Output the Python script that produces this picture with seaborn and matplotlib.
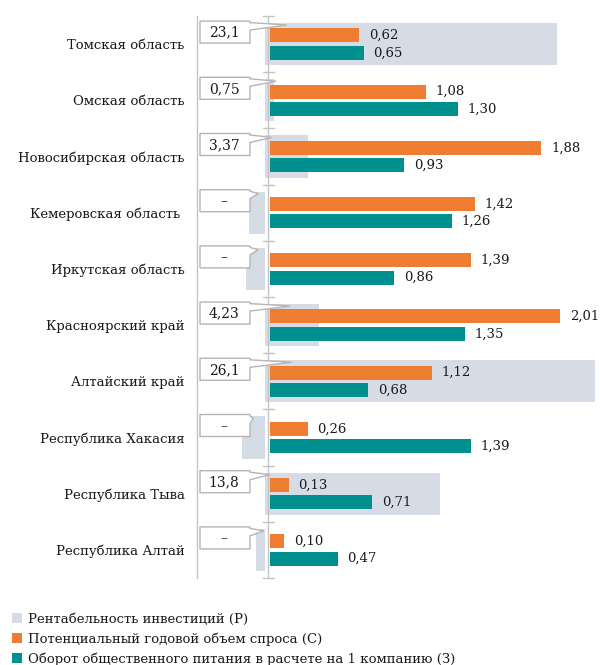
import numpy as np
import pandas as pd
import matplotlib
matplotlib.use("Agg")
import matplotlib.pyplot as plt
import seaborn as sns
from matplotlib.patches import Polygon, Rectangle

# ---- data -------------------------------------------------------------
regions = [
    "Томская область", "Омская область", "Новосибирская область",
    "Кемеровская область ", "Иркутская область", "Красноярский край",
    "Алтайский край", "Республика Хакасия", "Республика Тыва",
    "Республика Алтай",
]
# return on investment (P); negative entries are the short stubs drawn where no value is given
profit = [23.1, 0.75, 3.37, -1.3, -1.5, 4.23, 26.1, -1.8, 13.8, -0.7]
# potential annual demand (C)
demand = [0.62, 1.08, 1.88, 1.42, 1.39, 2.01, 1.12, 0.26, 0.13, 0.10]
# catering turnover per company (З)
turnover = [0.65, 1.30, 0.93, 1.26, 0.86, 1.35, 0.68, 1.39, 0.71, 0.47]
# where each callout pointer touches its grey bar (in P units)
pointer_at = [1.7, 0.87, 0.53, -0.53, -0.53, 2.0, 2.1, -0.92, 0.4, -0.1]

legend_labels = [
    "Рентабельность инвестиций (Р)",
    "Потенциальный годовой объем спроса (С)",
    "Оборот общественного питания в расчете на 1 компанию (З)",
]

GREY = "#D6DCE5"
ORANGE = "#EE7D31"
TEAL = "#00908F"
LINE = "#C4C4C4"
TXT = "#1A1A1A"
FONT = "DejaVu Serif"
FS = 9.5

sns.set_theme(style="white")
plt.rcParams["font.family"] = [FONT, "DejaVu Sans"]


def fmt(v):
    return ("%g" % v).replace(".", ",")


W, H = 600, 665
fig = plt.figure(figsize=(W / 100, H / 100), dpi=100)
rect = [197 / W, (H - 578) / H, (W - 197) / W, (578 - 16) / H]

# grey background bars on their own scale
axg = fig.add_axes(rect)
sns.barplot(x=profit, y=regions, color=GREY, width=0.75, saturation=1,
            orient="h", ax=axg, linewidth=0)
axg.set_xlim(-68 / 12.65, 335 / 12.65)
axg.axis("off")

# orange / teal pairs
ax = fig.add_axes(rect)
ax.patch.set_visible(False)
df = pd.DataFrame({
    "region": regions * 2,
    "value": demand + turnover,
    "series": ["C"] * len(regions) + ["З"] * len(regions),
})
sns.barplot(data=df, y="region", x="value", hue="series",
            palette=[ORANGE, TEAL], saturation=1, orient="h",
            width=0.62, gap=0.2, linewidth=0, legend=False, ax=ax)
ax.set_xlim(-73 / 144.3, 330 / 144.3)
ax.set_xlabel("")
ax.set_ylabel("")
ax.set_xticks([])
for s in ["top", "right", "bottom"]:
    ax.spines[s].set_visible(False)
ax.spines["left"].set_color(LINE)
ax.spines["left"].set_linewidth(1)
ax.tick_params(axis="y", length=0, pad=9, labelsize=FS, labelcolor=TXT)

for lab in ax.get_yticklabels():
    lab.set_fontfamily(FONT)

for cont, vals in zip(ax.containers, [demand, turnover]):
    ax.bar_label(cont, labels=[f"{v:.2f}".replace(".", ",") for v in vals],
                 padding=7, fontsize=FS, color=TXT, family=FONT)

# category axis with boundary ticks
x0 = -2 / 144.3
n = len(regions)
ax.plot([x0, x0], [-0.5, n - 0.5], color=LINE, lw=1, clip_on=False)
for k in range(n + 1):
    ax.plot([-7 / 144.3, 4 / 144.3], [k - 0.5, k - 0.5], color=LINE, lw=1,
            clip_on=False)
ax.set_ylim(n - 0.5, -0.5)
axg.set_ylim(n - 0.5, -0.5)

# overlay in pixel coordinates for callouts and legend
ov = fig.add_axes([0, 0, 1, 1])
ov.set_xlim(0, W)
ov.set_ylim(H, 0)
ov.axis("off")


def to_px(axis, x, y):
    dx, dy = axis.transData.transform((x, y))
    return dx, H - dy


for i, (v, tip) in enumerate(zip(profit, pointer_at)):
    _, cy = to_px(ax, 0, i)
    tx, ty = to_px(axg, tip, i - 0.34)
    top, bot = cy - 23, cy - 1
    left, right = 200, 250
    poly = Polygon([(left, top), (right, top), (right, top + 1.5), (tx, ty),
                    (right, top + 9), (right, bot), (left, bot)],
                   closed=True, facecolor="white", edgecolor="#B5B5B5", lw=1)
    ov.add_patch(poly)
    label = fmt(v) if v > 0 else "–"
    ov.text((left + right) / 2 - 1, (top + bot) / 2 + 0.5, label, ha="center",
            va="center", fontsize=FS + 0.5, color=TXT, family=FONT)

for j, (lab, col) in enumerate(zip(legend_labels, [GREY, ORANGE, TEAL])):
    yc = 618 + 20 * j
    ov.add_patch(Rectangle((12, yc - 5), 10, 10, facecolor=col, lw=0))
    ov.text(28, yc + 1, lab, ha="left", va="center", fontsize=FS,
            color=TXT, family=FONT)

fig.savefig("out.png", dpi=100)
